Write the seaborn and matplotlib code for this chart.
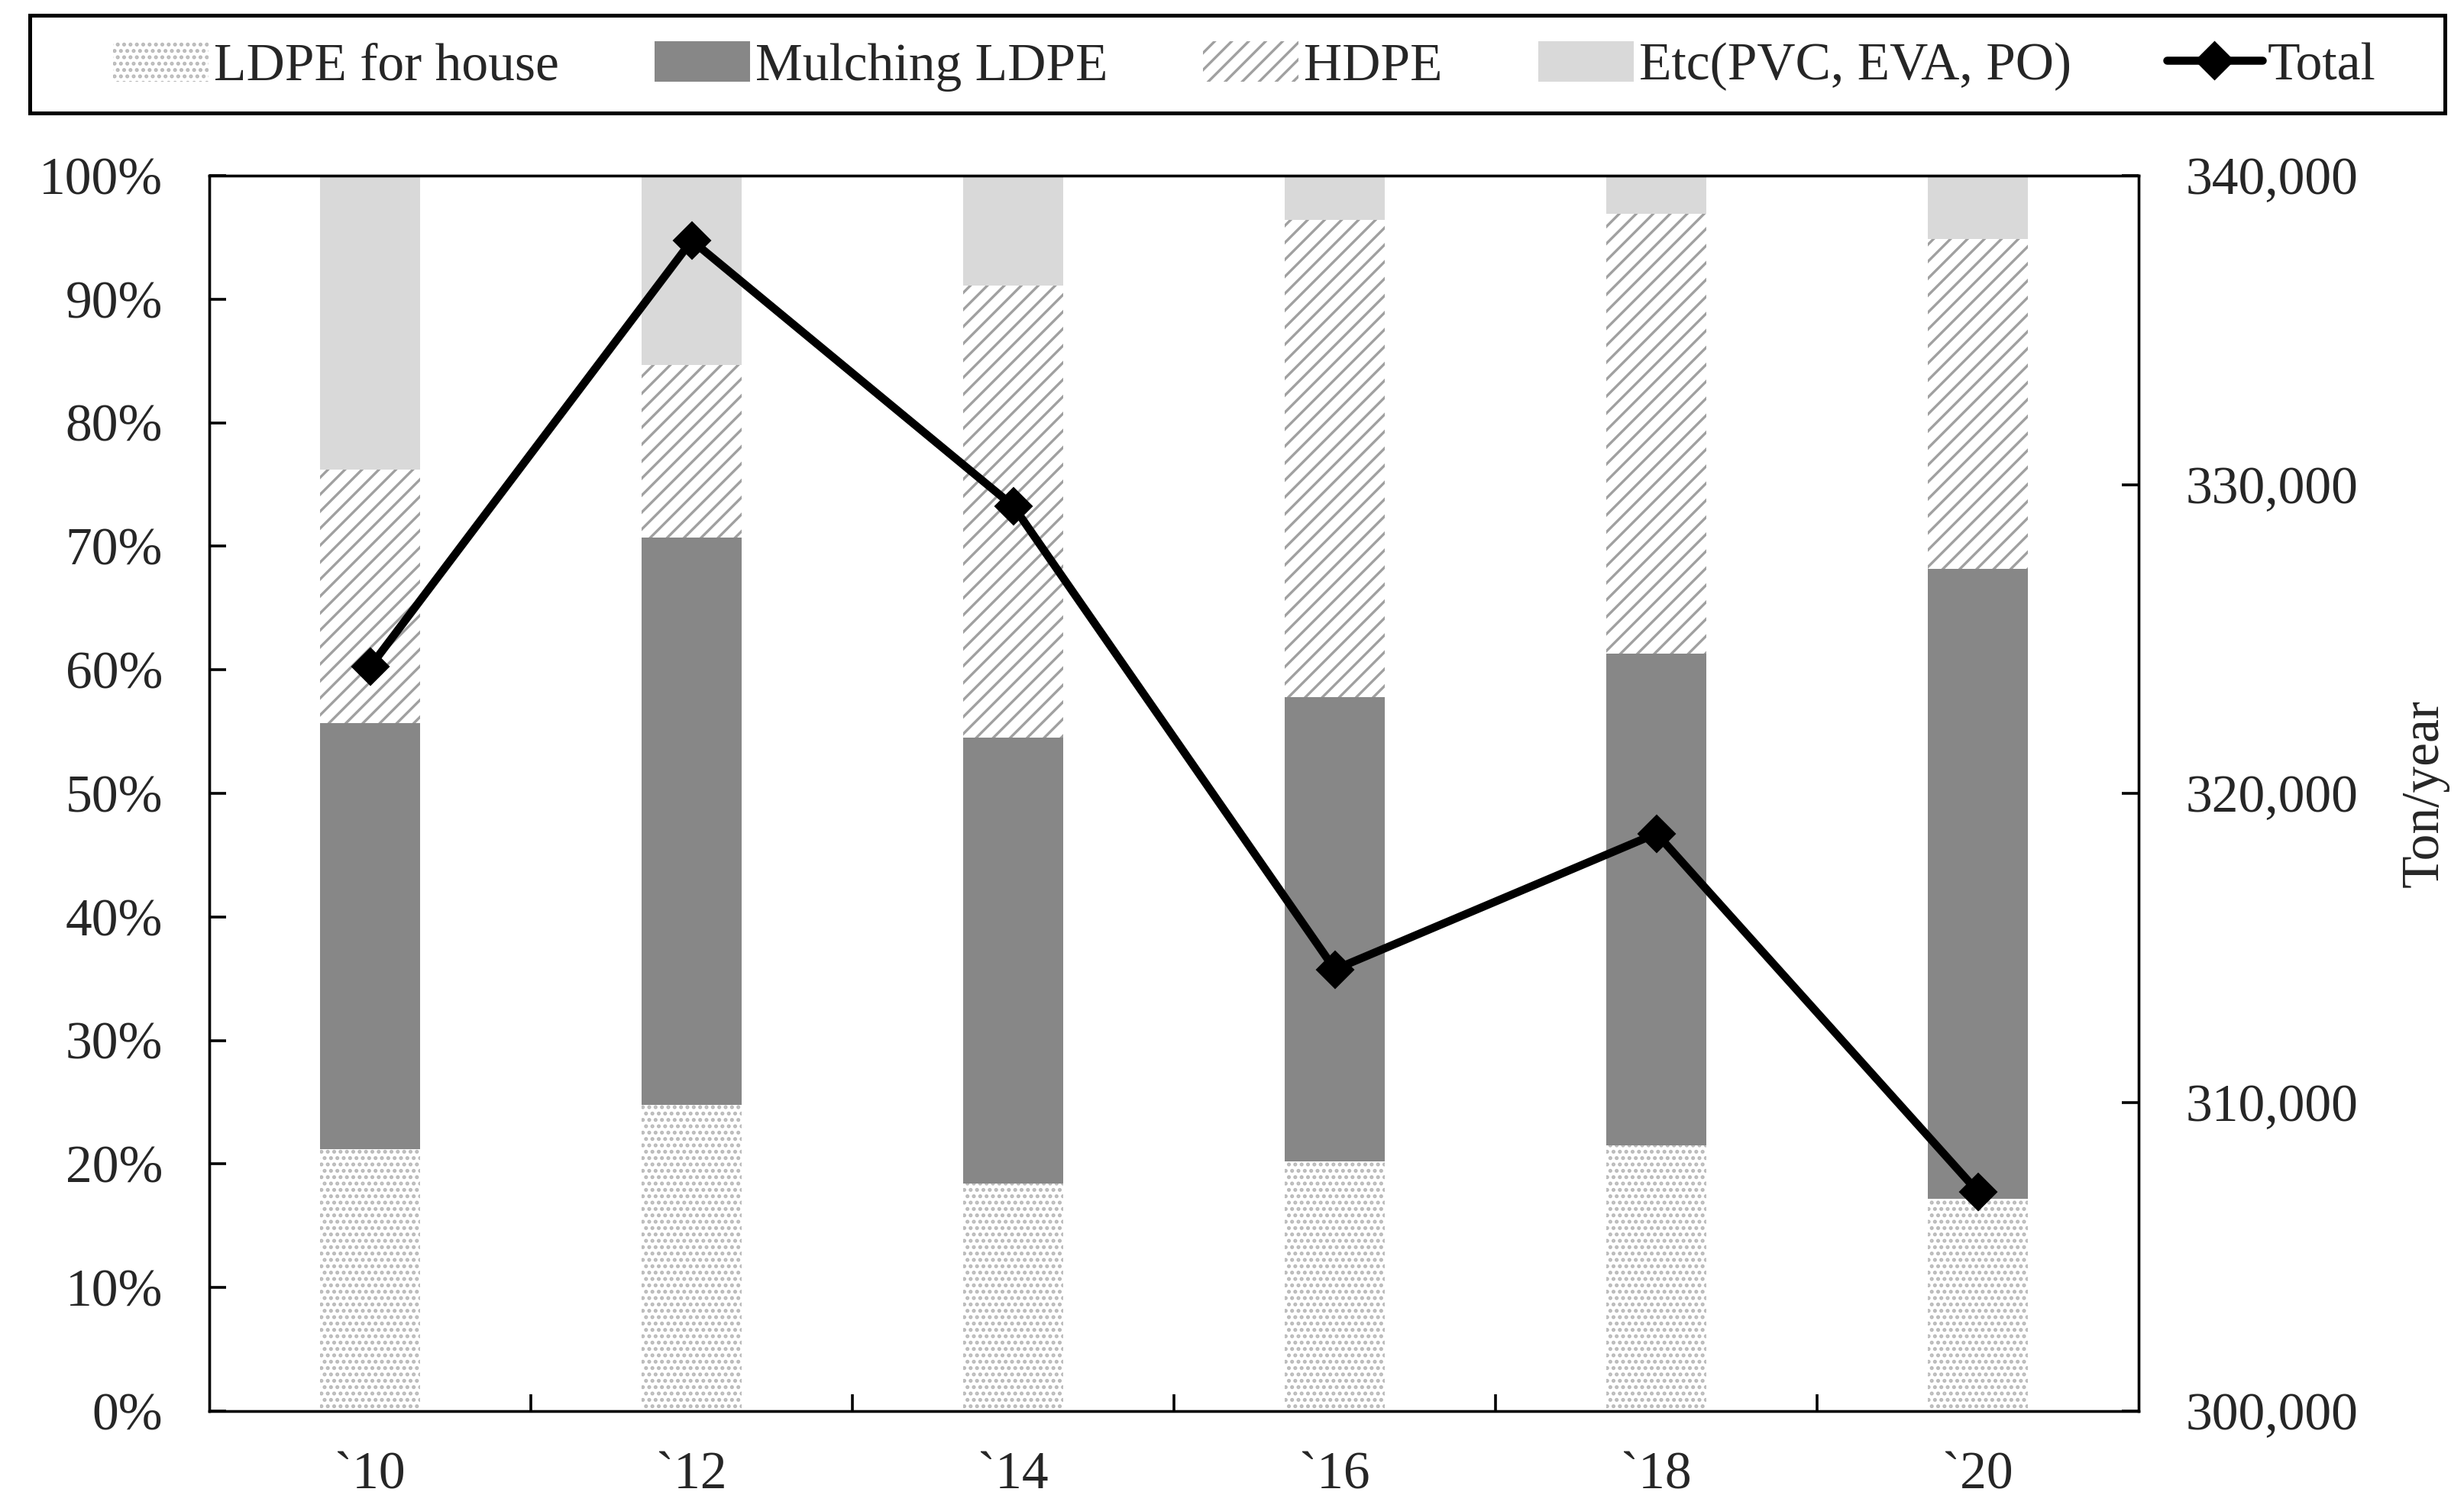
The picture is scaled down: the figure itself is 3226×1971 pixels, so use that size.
import numpy as np
import pandas as pd
import matplotlib
matplotlib.use("Agg")
import matplotlib.pyplot as plt
import seaborn as sns
from matplotlib.patches import Patch, Rectangle
from matplotlib.lines import Line2D

# ---- data ----
years = ["`10", "`12", "`14", "`16", "`18", "`20"]
ldpe_house = [21.2, 24.8, 18.4, 20.2, 21.5, 17.2]          # %
mulching_ldpe = [34.5, 45.9, 36.1, 37.6, 39.8, 51.0]        # %
hdpe = [20.5, 14.0, 36.6, 38.6, 35.6, 26.7]                 # %
etc = [23.8, 15.3, 8.9, 3.6, 3.1, 5.1]                      # %
total = [324100, 337900, 329300, 314300, 318700, 307100]    # ton/year
series_names = ["LDPE for house", "Mulching LDPE", "HDPE", "Etc(PVC, EVA, PO)", "Total"]

sns.set_style("ticks")
plt.rcParams["font.family"] = ["Liberation Serif", "DejaVu Serif"]
plt.rcParams["hatch.linewidth"] = 1.2
FS = 25

DOT_C = "#b8b8b8"
HATCH_C = "#a0a0a0"
MULCH_C = "#878787"
ETC_C = "#d9d9d9"
HDPE_HATCH = "///"
DOT_HATCH = "...."

df = pd.DataFrame({"year": years, "house": ldpe_house, "mulch": mulching_ldpe,
                   "hdpe": hdpe, "etc": etc, "total": total})
df["c1"] = df["house"]
df["c2"] = df["c1"] + df["mulch"]
df["c3"] = df["c2"] + df["hdpe"]
df["c4"] = df["c3"] + df["etc"]

fig = plt.figure(figsize=(16.13, 9.855), dpi=200)
ax = fig.add_axes([0.085, 0.0624, 0.783, 0.8209])

styles = [
    ("c4", dict(facecolor=ETC_C, edgecolor=ETC_C, hatch=None)),
    ("c3", dict(facecolor="white", edgecolor=HATCH_C, hatch=HDPE_HATCH)),
    ("c2", dict(facecolor=MULCH_C, edgecolor=MULCH_C, hatch=None)),
    ("c1", dict(facecolor="white", edgecolor=DOT_C, hatch=DOT_HATCH)),
]
for col, st in styles:
    sns.barplot(data=df, x="year", y=col, order=years, ax=ax, width=0.31,
                saturation=1, errorbar=None, color=st["facecolor"])
    cont = ax.containers[-1]
    for p in cont:
        p.set_facecolor(st["facecolor"])
        p.set_edgecolor(st["edgecolor"])
        p.set_linewidth(0)
        if st["hatch"]:
            p.set_hatch(st["hatch"])

n = len(years)
ax.set_xlim(-0.5, n - 0.5)
ax.set_ylim(0, 100)
ax.set_yticks(np.arange(0, 101, 10))
ax.set_yticklabels([f"{v}%" for v in range(0, 101, 10)], fontsize=FS)
ax.set_xticks(np.arange(n))
ax.set_xticklabels(years, fontsize=FS)
ax.set_xticks(np.arange(n - 1) + 0.5, minor=True)
ax.tick_params(axis="x", which="major", length=0, pad=19)
ax.tick_params(axis="x", which="minor", direction="in", length=8, width=1.3, color="black")
ax.tick_params(axis="y", direction="in", length=8, width=1.3, pad=22, color="black")
ax.set_xlabel("")
ax.set_ylabel("")
for s in ax.spines.values():
    s.set_visible(True)
    s.set_linewidth(1.2)
    s.set_color("black")

ax2 = ax.twinx()
sns.lineplot(x=np.arange(n), y=df["total"].values, ax=ax2, color="black",
             linewidth=3.8, marker="D", markersize=12, markeredgecolor="black",
             legend=False)
ax2.set_ylim(300000, 340000)
ax2.set_yticks(np.arange(300000, 340001, 10000))
ax2.set_yticklabels([f"{v:,}" for v in range(300000, 340001, 10000)], fontsize=FS)
ax2.tick_params(axis="y", direction="in", length=8, width=1.3, pad=22, color="black")
ax2.set_ylabel("Ton/year", fontsize=FS, labelpad=20)
ax2.set_xlim(-0.5, n - 0.5)
for s in ax2.spines.values():
    s.set_linewidth(1.2)
    s.set_color("black")

handles = [
    Patch(facecolor="white", edgecolor=DOT_C, hatch=DOT_HATCH, linewidth=0),
    Patch(facecolor=MULCH_C, edgecolor=MULCH_C, linewidth=0),
    Patch(facecolor="white", edgecolor=HATCH_C, hatch=HDPE_HATCH, linewidth=0),
    Patch(facecolor=ETC_C, edgecolor=ETC_C, linewidth=0),
    Line2D([0], [0], color="black", linewidth=3.8, marker="D", markersize=12),
]
fig.legend(handles, series_names, loc="center", bbox_to_anchor=(0.505, 0.956),
           ncol=5, frameon=False, fontsize=FS, handlelength=1.8,
           handletextpad=0.1, columnspacing=1.8, handleheight=0.8)
fig.patches.append(Rectangle((0.0121, 0.9249), 0.980, 0.065, transform=fig.transFigure,
                             fill=False, edgecolor="black", linewidth=1.8))

fig.savefig("out.png", dpi=200, facecolor="white")
